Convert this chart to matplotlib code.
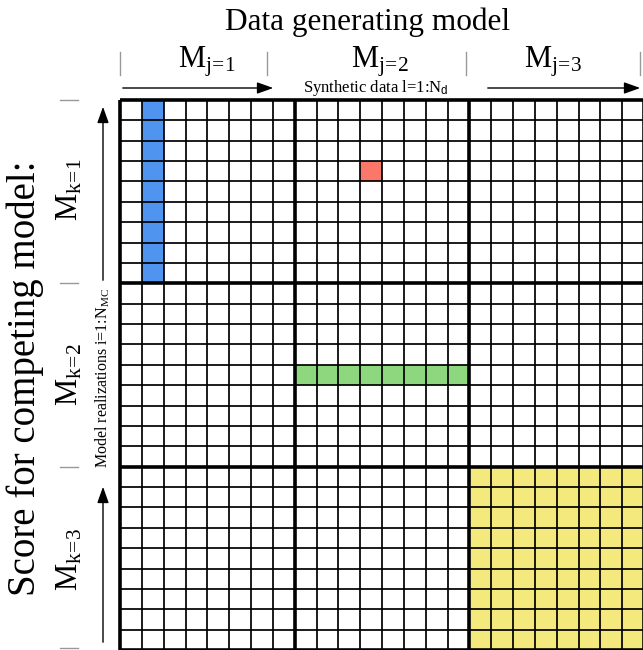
import numpy as np
import matplotlib
matplotlib.use("Agg")
import matplotlib.pyplot as plt
from matplotlib.patches import FancyArrowPatch
from matplotlib.lines import Line2D

plt.rcParams["font.family"] = ["Liberation Serif", "DejaVu Serif"]
plt.rcParams["mathtext.fontset"] = "custom"
plt.rcParams["mathtext.rm"] = "Liberation Serif"
plt.rcParams["mathtext.it"] = "Liberation Serif"
plt.rcParams["mathtext.sf"] = "Liberation Sans"

# grid layout: 3 x 3 blocks of model realizations x synthetic data
n_blocks = 3
cols_per_block = 8   # synthetic data l = 1:Nd
rows_per_block = 9   # model realizations i = 1:NMC

block_labels_j = [r"j\!=\!1", r"j\!=\!2", r"j\!=\!3"]
block_labels_k = [r"k\!=\!1", r"k\!=\!2", r"k\!=\!3"]

# highlighted cells (block row k, block col j, local rows, local cols)
blue_block = (0, 0)
blue_cols = [1]
red_block = (0, 1)
red_rows = [3]
red_cols = [3]
green_block = (1, 1)
green_rows = [4]
yellow_block = (2, 2)

blue = "#4f95ef"
red = "#fa7769"
green = "#8fd77f"
yellow = "#f4e97d"

W, H = 643, 650
fig = plt.figure(figsize=(W / 100, H / 100), dpi=100)

def fx(px):
    return px / W

def fy(py):
    return 1 - py / H

# grid axes
x0, x1, y0, y1 = 120, 644, 100, 650
ax = fig.add_axes([fx(x0), fy(y1), (x1 - x0) / W, (y1 - y0) / H])
nr = n_blocks * rows_per_block
nc = n_blocks * cols_per_block

img = np.ones((nr, nc, 3))
all_rows = list(range(rows_per_block))
all_cols = list(range(cols_per_block))

def paint(block, rows, cols, color):
    k, j = block
    rgb = matplotlib.colors.to_rgb(color)
    for r in rows:
        for c in cols:
            img[k * rows_per_block + r, j * cols_per_block + c] = rgb

paint(blue_block, all_rows, blue_cols, blue)
paint(red_block, red_rows, red_cols, red)
paint(green_block, green_rows, all_cols, green)
paint(yellow_block, all_rows, all_cols, yellow)

ax.imshow(img, extent=(0, nc, nr, 0), aspect="auto", interpolation="nearest")
for c in range(nc + 1):
    lw = 2.6 if c % cols_per_block == 0 else 1.25
    ax.vlines(c, 0, nr, color="black", lw=lw, clip_on=False)
for r in range(nr + 1):
    lw = 2.6 if r % rows_per_block == 0 else 1.25
    ax.hlines(r, 0, nc, color="black", lw=lw, clip_on=False)
ax.set_xlim(0, nc)
ax.set_ylim(nr, 0)
ax.axis("off")

# top labels
fig.text(fx(368), fy(22), "Data generating model", fontsize=22.5, ha="center", va="center")
j_centers = [207, 380, 553]
for xc, lab in zip(j_centers, block_labels_j):
    fig.text(fx(xc), fy(62), r"$\mathrm{M_{%s}}$" % lab, fontsize=22, ha="center", va="center")
for xs in [120, 267, 466, 640]:
    fig.add_artist(Line2D([fx(xs), fx(xs)], [fy(52), fy(75)], color="#999999", lw=1,
                          transform=fig.transFigure))
fig.text(fx(376), fy(88), r"Synthetic data l=1:N$_\mathsf{d}$", fontsize=12, ha="center", va="center")
for a, b in [(120, 276), (485, 643)]:
    fig.add_artist(FancyArrowPatch((fx(a), fy(88)), (fx(b), fy(88)), transform=fig.transFigure,
                                   arrowstyle="-|>,head_length=0.7,head_width=0.25",
                                   mutation_scale=14, lw=1, color="black"))

# left labels
fig.text(fx(25), fy(378), "Score for competing model:", fontsize=28, rotation=90,
         ha="center", va="center")
k_centers = [190, 375, 560]
for yc, lab in zip(k_centers, block_labels_k):
    fig.text(fx(70), fy(yc), r"$\mathrm{M_{%s}}$" % lab, fontsize=22, rotation=90,
             ha="center", va="center")
for ys in [100, 283, 467, 648]:
    fig.add_artist(Line2D([fx(60), fx(78)], [fy(ys), fy(ys)], color="#999999", lw=1,
                          transform=fig.transFigure))
fig.text(fx(103), fy(378), r"Model realizations i=1:N$_\mathrm{MC}$", fontsize=11.5, rotation=90,
         ha="center", va="center")
for a, b in [(283, 104), (645, 484)]:
    fig.add_artist(FancyArrowPatch((fx(103), fy(a)), (fx(103), fy(b)), transform=fig.transFigure,
                                   arrowstyle="-|>,head_length=0.7,head_width=0.25",
                                   mutation_scale=14, lw=1, color="black"))

fig.savefig("out.png", dpi=100)
